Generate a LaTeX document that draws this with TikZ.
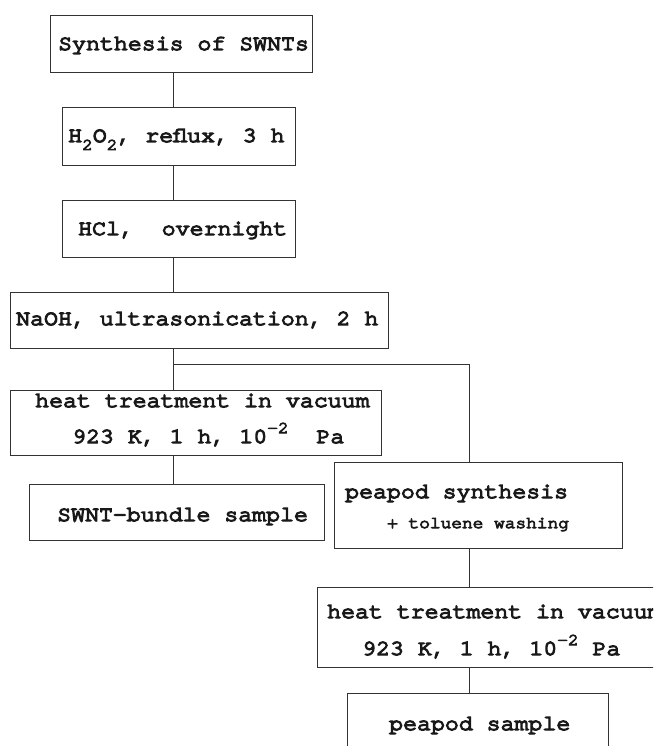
\documentclass[tikz,border=0pt]{standalone}
\usepackage{fontspec}
\newfontfamily\monofam[FakeStretch=1.08,FakeBold=6]{TeX Gyre Cursor}
\newcommand{\bigtxt}{\monofam\fontsize{21.5}{24}\selectfont}
\newcommand{\smalltxt}{\monofam\fontsize{16.5}{18}\selectfont}
\newcommand{\mysub}[1]{\raisebox{-8pt}{\smalltxt #1}}
\newcommand{\mysup}[1]{\raisebox{10pt}{\smalltxt #1}}
\begin{document}
\begin{tikzpicture}[x=1pt,y=-1pt,
  box/.style={draw=black!80,line width=1pt,rectangle,inner sep=0pt,anchor=north west},
  txt/.style={inner sep=0pt,anchor=base west,font=\bigtxt,text=black!90},
  conn/.style={draw=black!80,line width=1pt}]
\useasboundingbox (0,0) rectangle (653,746);
\fill[white] (0,0) rectangle (653,746);
\clip (0,0) rectangle (653,746);
% boxes
\node[box,minimum width=262pt,minimum height=57pt] (b1) at (50,15) {};
\node[box,minimum width=233pt,minimum height=58pt] (b2) at (62,107) {};
\node[box,minimum width=233pt,minimum height=57pt] (b3) at (62,200) {};
\node[box,minimum width=378pt,minimum height=56pt] (b4) at (10,292) {};
\node[box,minimum width=371pt,minimum height=65pt] (b5) at (10,390) {};
\node[box,minimum width=295pt,minimum height=56pt] (b6) at (29,484) {};
\node[box,minimum width=288pt,minimum height=86pt] (b7) at (334,462) {};
\node[box,minimum width=380pt,minimum height=80pt] (b8) at (317,587) {};
\node[box,minimum width=261pt,minimum height=90pt] (b9) at (347,693) {};
% texts
\node[txt] (t1) at (58,50) {Synthesis of SWNTs};
\node[txt] (t2) at (68,142) {H\mysub{2}O\mysub{2}, reflux, 3 h};
\node[txt] (t3) at (78,235) {HCl,\ \ overnight};
\node[txt] (t4) at (16,325) {NaOH, ultrasonication, 2 h};
\node[txt] (t5a) at (35,407) {heat treatment in vacuum};
\node[txt] (t5b) at (72,443) {923 K, 1 h, 10\mysup{-2}\ \ Pa};
\node[txt] (t6) at (57,521) {SWNT-bundle sample};
\node[txt] (t7a) at (345,498) {peapod synthesis};
\node[txt,font=\smalltxt] (t7b) at (387,528) {+ toluene washing};
\node[txt] (t8a) at (327,618) {heat treatment in vacuum};
\node[txt] (t8b) at (362,655) {923 K, 1 h, 10\mysup{-2} Pa};
\node[txt] (t9) at (389,730) {peapod sample};
% connector guides
\coordinate (tx) at (173,0);
\coordinate (rx) at (469,0);
\coordinate (br) at (173,364);
% connectors
\draw[conn] (b1.south -| tx) -- (b2.north -| tx);
\draw[conn] (b2.south -| tx) -- (b3.north -| tx);
\draw[conn] (b3.south -| tx) -- (b4.north -| tx);
\draw[conn] (b4.south -| tx) -- (b5.north -| tx);
\draw[conn] (br) -- (br -| rx) -- (b7.north -| rx);
\draw[conn] (b5.south -| tx) -- (b6.north -| tx);
\draw[conn] (b7.south -| rx) -- (b8.north -| rx);
\draw[conn] (b8.south -| rx) -- (b9.north -| rx);
\end{tikzpicture}
\end{document}
